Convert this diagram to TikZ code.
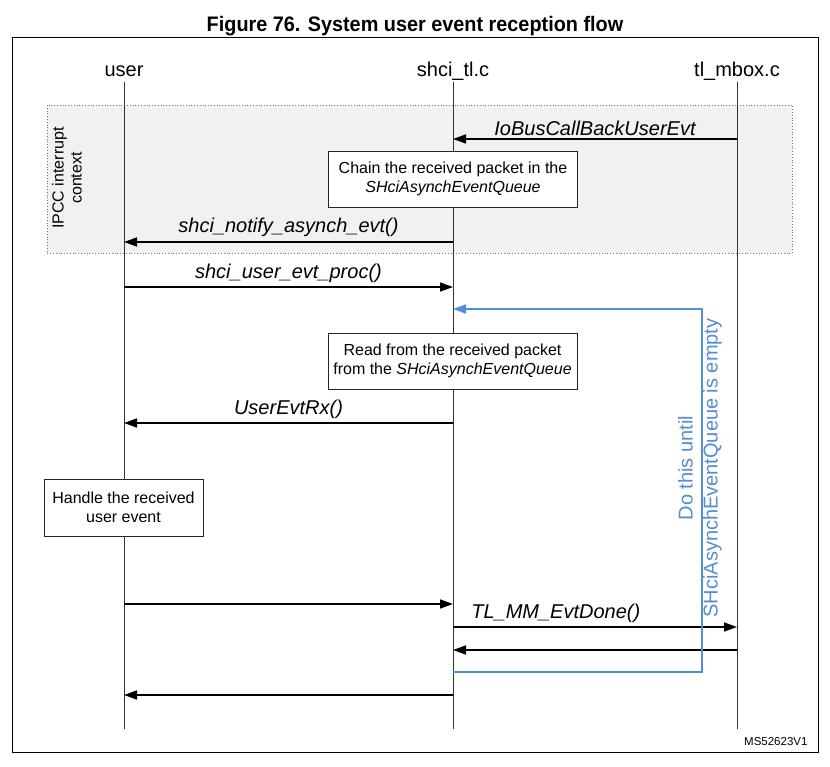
\documentclass[tikz,border=0pt]{standalone}
\usepackage{fontspec}
\setmainfont{Liberation Sans}
\usepackage{xcolor}
\usetikzlibrary{arrows.meta, positioning, calc}

\definecolor{loopblue}{RGB}{84,141,212}
\definecolor{ctxgray}{RGB}{241,241,241}

\begin{document}
\begin{tikzpicture}[x=1pt, y=-1pt,
    msg/.style={-{Triangle[length=13pt, width=9pt]}, line width=1.6pt},
    lifeline/.style={draw=black!80, line width=0.9pt},
    actbox/.style={draw=black!85, fill=white, line width=0.8pt, align=center,
        minimum height=56pt, font=\fontsize{16}{19}\selectfont},
    msglabel/.style={anchor=base, font=\fontsize{20}{24}\selectfont\itshape},
    head/.style={anchor=base, font=\fontsize{20}{24}\selectfont}]
    % =========================================================
    % PAGE, TITLE AND FRAME
    % =========================================================
    \fill[white] (0,0) rectangle (830,766);
    \useasboundingbox (0,0) rectangle (830,766);
    \node[anchor=base, font=\bfseries\fontsize{21}{24}\selectfont] (title) at (415,31.5)
        {\scalebox{0.945}[1]{Figure 76. System user event reception flow}};
    \draw[line width=0.9pt] (12,37) rectangle (818,752);
    \node[anchor=base east, font=\fontsize{11.5}{14}\selectfont] (ref) at (811,745) {MS52623V1};

    % =========================================================
    % IPCC INTERRUPT CONTEXT
    % =========================================================
    \draw[dotted, draw=black!55, fill=ctxgray, line width=0.8pt] (47,105) rectangle (792,253);
    \node[rotate=90, align=center, font=\fontsize{16}{18}\selectfont] (ipcc) at (67,178)
        {IPCC interrupt\\context};

    % =========================================================
    % LIFELINES
    % =========================================================
    \node[head] (user) at (124,76) {user};
    \node[head] (shci) at (453,76) {shci\_tl.c};
    \node[head] (mbox) at (737,76) {tl\_mbox.c};
    \coordinate (foot) at (0,729);
    \foreach \who in {user, shci, mbox}
        \draw[lifeline] ($(\who.base)+(0,6)$) -- (\who.base |- foot);

    % message levels
    \foreach \lvl/\y in {io/139, notify/242, proc/287, rx/423, done/604, tlmm/627, ack/650, back/695}
        \coordinate (\lvl) at (0,\y);

    % =========================================================
    % MESSAGES AND ACTIONS
    % =========================================================
    \draw[msg] (mbox |- io) -- (shci |- io)
        node[msglabel, midway, yshift=4pt] (ioLbl) {IoBusCallBackUserEvt};
    \node[actbox, minimum width=249pt] (chain) at (453,179)
        {Chain the received packet in the\\\textit{SHciAsynchEventQueue}};
    \draw[msg] (shci |- notify) -- (user |- notify)
        node[msglabel, midway, yshift=10pt] (notifyLbl) {shci\_notify\_asynch\_evt()};
    \draw[msg] (user |- proc) -- (shci |- proc)
        node[msglabel, midway, yshift=9pt] (procLbl) {shci\_user\_evt\_proc()};
    \node[actbox, minimum width=249pt] (read) at (452.5,361)
        {Read from the received packet\\from the \textit{SHciAsynchEventQueue}};
    \draw[msg] (shci |- rx) -- (user |- rx)
        node[msglabel, midway, yshift=9pt] (rxLbl) {UserEvtRx()};
    \node[actbox, minimum width=159pt, minimum height=57pt] (handle) at (123.5,507.5)
        {Handle the received\\user event};
    \draw[msg] (user |- done) -- (shci |- done);
    \draw[msg] (shci |- tlmm) -- (mbox |- tlmm)
        node[msglabel, pos=0.05, anchor=base west, yshift=9pt] (tlmmLbl) {TL\_MM\_EvtDone()};
    \draw[msg] (mbox |- ack) -- (shci |- ack);
    \draw[msg] (shci |- back) -- (user |- back);

    % =========================================================
    % REPEAT LOOP
    % =========================================================
    \coordinate (loopTop) at (702,309);
    \coordinate (loopBot) at (702,672);
    \draw[loopblue, line width=1.5pt, -{Triangle[length=13pt, width=9pt]}]
        (shci |- loopBot) -- (loopBot) -- (loopTop) -- (shci |- loopTop);
    \node[rotate=90, align=center, text=loopblue, font=\fontsize{20}{25}\selectfont] (until) at (700,468)
        {Do this until\\SHciAsynchEventQueue is empty};
\end{tikzpicture}
\end{document}
